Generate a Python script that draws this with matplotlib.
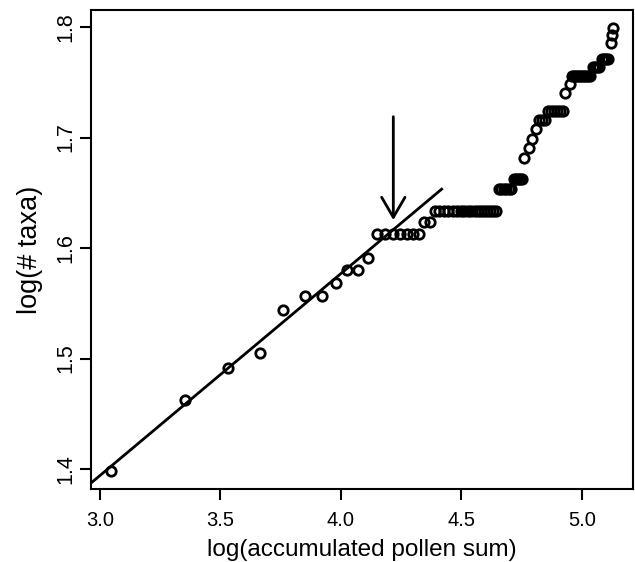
import matplotlib
matplotlib.use("Agg")
import matplotlib.pyplot as plt
import numpy as np

plt.rcParams['font.family'] = ['Liberation Sans', 'DejaVu Sans']

# log10(accumulated pollen sum), one entry per sample
log_pollen_sum = [
    3.0448, 3.353, 3.530, 3.666, 3.761, 3.851, 3.923, 3.981, 4.0255, 4.071, 4.111,
    4.1511, 4.1850, 4.2164, 4.2458, 4.2732, 4.2991, 4.3235,
    4.3466, 4.3685,
    4.3894, 4.4093, 4.4283, 4.4465, 4.4640, 4.4809, 4.4971, 4.5127, 4.5278,
    4.5423, 4.5564, 4.5701, 4.5833, 4.5962, 4.6086, 4.6208, 4.6326, 4.6440,
    4.6552, 4.6661, 4.6768, 4.6872, 4.6973, 4.7072,
    4.7169, 4.7264, 4.7357, 4.7448, 4.7537,
    4.7600, 4.7810, 4.7946, 4.8089,
    4.8206, 4.8331, 4.8456,
    4.8601, 4.8726, 4.8850, 4.8975, 4.9099, 4.9224,
    4.9307, 4.9515,
    4.9597, 4.9680, 4.9763, 4.9846, 4.9929, 5.0012, 5.0095, 5.0178, 5.0261, 5.0345,
    5.0469, 5.0552, 5.0635, 5.0718,
    5.0843, 5.0926, 5.1009, 5.1092,
    5.1196, 5.1246, 5.1300,
]

# number of taxa found (cumulative), one entry per sample
n_taxa = [
    25, 29, 31, 32, 35, 36, 36, 37, 38, 38, 39,
    41, 41, 41, 41, 41, 41, 41,
    42, 42,
    43, 43, 43, 43, 43, 43, 43, 43, 43,
    43, 43, 43, 43, 43, 43, 43, 43, 43,
    45, 45, 45, 45, 45, 45,
    46, 46, 46, 46, 46,
    48, 49, 50, 51,
    52, 52, 52,
    53, 53, 53, 53, 53, 53,
    55, 56,
    57, 57, 57, 57, 57, 57, 57, 57, 57, 57,
    58, 58, 58, 58,
    59, 59, 59, 59,
    61, 62, 63,
]

log_taxa = np.log10(np.array(n_taxa, dtype=float))

# fitted line (intercept, slope) and its drawn x-extent
fit_intercept = 0.846
fit_slope = 0.1827
fit_x = [2.90, 4.4229]

# arrow marking the break point
arrow_x = 4.2178
arrow_y_start = 1.7188
arrow_y_end = 1.6253

xticks = [3.0, 3.5, 4.0, 4.5, 5.0]
yticks = [1.4, 1.5, 1.6, 1.7, 1.8]

fig = plt.figure(figsize=(6.35, 5.62), dpi=100)
ax = fig.add_axes([0.1428, 0.1299, 0.9969 - 0.1428, 0.9822 - 0.1299])

ax.plot(log_pollen_sum, log_taxa, linestyle='none', marker='o', markersize=6.8,
        markerfacecolor='none', markeredgecolor='black', markeredgewidth=2.0)

fy = [fit_intercept + fit_slope * v for v in fit_x]
ax.plot(fit_x, fy, color='black', linewidth=2.0, solid_capstyle='butt')

ax.annotate('', xy=(arrow_x, arrow_y_end), xytext=(arrow_x, arrow_y_start),
            arrowprops=dict(arrowstyle='->,head_length=0.72,head_width=0.42',
                            color='black', linewidth=2.0, mutation_scale=20,
                            shrinkA=0, shrinkB=0))

xmin, xmax = 2.9614, 5.213
ymin, ymax = 1.3819, 1.8154
ax.set_xlim(xmin, xmax)
ax.set_ylim(ymin, ymax)

ax.set_xticks(xticks)
ax.set_xticklabels(['%.1f' % v for v in xticks])
ax.set_yticks(yticks)
ax.set_yticklabels(['%.1f' % v for v in yticks], rotation=90, va='center')

for s in ax.spines.values():
    s.set_linewidth(1.5)

ax.tick_params(axis='both', direction='out', length=8, width=1.5, color='black')
ax.tick_params(axis='x', labelsize=14.5, pad=8)
ax.tick_params(axis='y', labelsize=15.5, pad=2.5)

ax.set_xlabel('log(accumulated pollen sum)', fontsize=17.5, labelpad=6)
ax.set_ylabel('log(# taxa)', fontsize=19.5, labelpad=9)

fig.savefig('out.png', dpi=100)
